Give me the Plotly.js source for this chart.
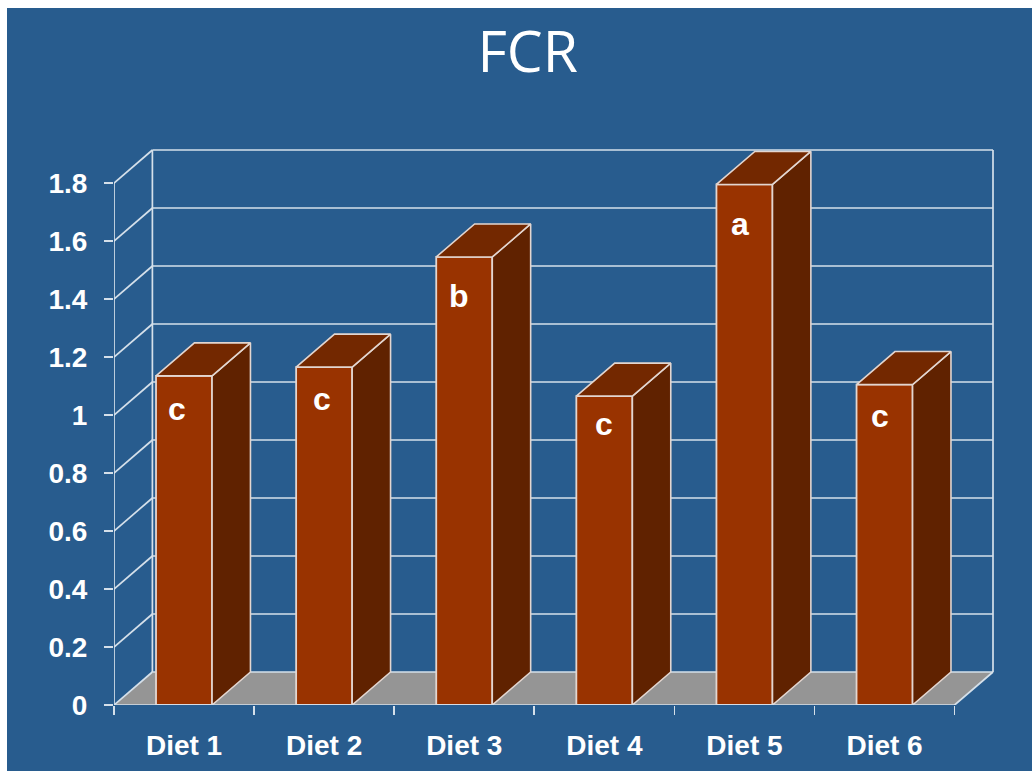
<!DOCTYPE html>
<html>
<head>
<meta charset="utf-8">
<script src="https://cdn.plot.ly/plotly-3.0.1.min.js"></script>
<style>
html,body{margin:0;padding:0;background:#fff;overflow:hidden}
#chart{position:absolute;left:7px;top:8px;width:1025px;height:763px}
</style>
</head>
<body>
<div id="chart"></div>
<script>
const categories = ['Diet 1','Diet 2','Diet 3','Diet 4','Diet 5','Diet 6'];
const fcrValues = [1.135, 1.165, 1.545, 1.065, 1.795, 1.105];
const significance = ['c','c','b','c','a','c'];
const yTickValues = [0,0.2,0.4,0.6,0.8,1,1.2,1.4,1.6,1.8];
const yTickLabels = ['0','0.2','0.4','0.6','0.8','1','1.2','1.4','1.6','1.8'];
const letterShiftX = [-7,-2,-5,0,-4,-5];
const letterShiftY = [33,32,39,28,40,31];

const depthX = 0.274, depthY = 0.1138, barWidth = 0.4;
const half = barWidth/2, yMax = 1.8;
const lineCol = '#d5e0ea', edgeCol = '#e3d6d0';
const idx = categories.map((_,i)=>i);

const tops = {x:[],y:[]}, sides = {x:[],y:[]};
idx.forEach(i=>{
  const v = fcrValues[i], l = i-half, r = i+half;
  tops.x.push(l,r,r+depthX,l+depthX,l,null);
  tops.y.push(v,v,v+depthY,v+depthY,v,null);
  sides.x.push(r,r+depthX,r+depthX,r,r,null);
  sides.y.push(0,depthY,v+depthY,v,0,null);
});

const traces = [
  {type:'bar',x:idx,y:fcrValues,width:barWidth,hoverinfo:'skip',
   marker:{color:'#993300',line:{color:edgeCol,width:1.8}}},
  {type:'scatter',mode:'lines',x:sides.x,y:sides.y,fill:'toself',fillcolor:'#602200',
   line:{color:edgeCol,width:1.6},hoverinfo:'skip',cliponaxis:false},
  {type:'scatter',mode:'lines',x:tops.x,y:tops.y,fill:'toself',fillcolor:'#732800',
   line:{color:edgeCol,width:1.6},hoverinfo:'skip',cliponaxis:false},
  {type:'scatter',mode:'lines',
   x:[-0.5,-0.5,5.5,5.5+depthX],y:[yMax,0,0,depthY],
   line:{color:lineCol,width:1.7},hoverinfo:'skip',cliponaxis:false}
];

const line = {color:lineCol,width:1.7};
const shapes = [
  {type:'path',layer:'below',xref:'x',yref:'y',
   path:`M -0.5 0 L 5.5 0 L ${5.5+depthX} ${depthY} L ${-0.5+depthX} ${depthY} Z`,
   fillcolor:'#959595',line:{width:0}},
  {type:'line',layer:'below',xref:'x',yref:'y',x0:-0.5+depthX,x1:-0.5+depthX,y0:depthY,y1:yMax+depthY,line},
  {type:'line',layer:'below',xref:'x',yref:'y',x0:5.5+depthX,x1:5.5+depthX,y0:depthY,y1:yMax+depthY,line}
];
yTickValues.forEach(v=>{
  shapes.push({type:'line',layer:'below',xref:'x',yref:'y',x0:-0.5,x1:-0.5+depthX,y0:v,y1:v+depthY,line});
  shapes.push({type:'line',layer:'below',xref:'x',yref:'y',x0:-0.5+depthX,x1:5.5+depthX,y0:v+depthY,y1:v+depthY,line});
});

const annotations = idx.map(i=>({
  x:i,y:fcrValues[i],xref:'x',yref:'y',text:significance[i],showarrow:false,
  xshift:letterShiftX[i],yshift:-letterShiftY[i],xanchor:'center',yanchor:'middle',
  font:{family:'Liberation Sans, Arial, sans-serif',size:32,color:'#fff',weight:700}
}));

const tickFont = {family:'Liberation Sans, Arial, sans-serif',size:28,color:'#fff',weight:700};
const padX = 2/140.1, padY = 2/290;
const layout = {
  width:1025,height:763,
  paper_bgcolor:'#285c8e',plot_bgcolor:'rgba(0,0,0,0)',
  showlegend:false,
  margin:{l:106.7,r:37.3,t:139.7,b:66.3,pad:0},
  title:{text:'FCR',font:{family:'Open Sans, sans-serif',size:57,color:'#fff'},
         x:0.508,xanchor:'center',xref:'container',y:0.942,yanchor:'middle',yref:'container'},
  xaxis:{type:'linear',range:[-0.5,5.5+depthX+padX],tickmode:'array',tickvals:idx,ticktext:categories,
         ticks:'',showgrid:false,zeroline:false,showline:false,tickfont:tickFont,ticklabelstandoff:21,
         minor:{ticks:'outside',ticklen:9,tickwidth:1.7,tickcolor:lineCol,tickmode:'linear',tick0:-0.5,dtick:1,showgrid:false}},
  yaxis:{range:[0,yMax+depthY+padY],tickmode:'array',tickvals:yTickValues,ticktext:yTickLabels,
         ticks:'outside',ticklen:9,tickwidth:1.7,tickcolor:lineCol,showgrid:false,zeroline:false,showline:false,
         tickfont:tickFont,ticklabelstandoff:11},
  shapes,annotations
};
Plotly.newPlot('chart',traces,layout,{displayModeBar:false,staticPlot:true});
</script>
</body>
</html>
